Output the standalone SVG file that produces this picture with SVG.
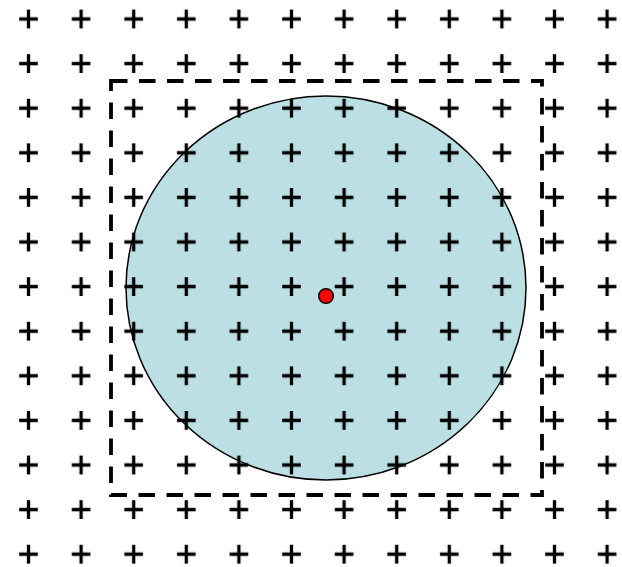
<svg xmlns="http://www.w3.org/2000/svg" width="622" height="567" viewBox="0 0 622 567">
<defs>
<pattern id="plus" patternUnits="userSpaceOnUse" x="2.2" y="-3.3" width="52.6" height="44.6">
<path d="M17 22.3h18.6M26.3 13v18.6" stroke="#000" stroke-width="3.3" fill="none"/>
</pattern>
</defs>
<rect width="622" height="567" fill="#fff"/>
<g id="region">
<ellipse cx="326" cy="288" rx="200" ry="192" fill="#bbdfe3" stroke="#000" stroke-width="1.5"/>
</g>
<g id="grid">
<rect width="622" height="567" fill="url(#plus)"/>
</g>
<g id="box">
<rect x="111" y="81" width="431" height="414" fill="none" stroke="#000" stroke-width="3.8" stroke-dasharray="16.5 11.5"/>
</g>
<g id="center">
<circle cx="326" cy="296" r="7.3" fill="#f00" stroke="#000" stroke-width="1.5"/>
</g>
</svg>
